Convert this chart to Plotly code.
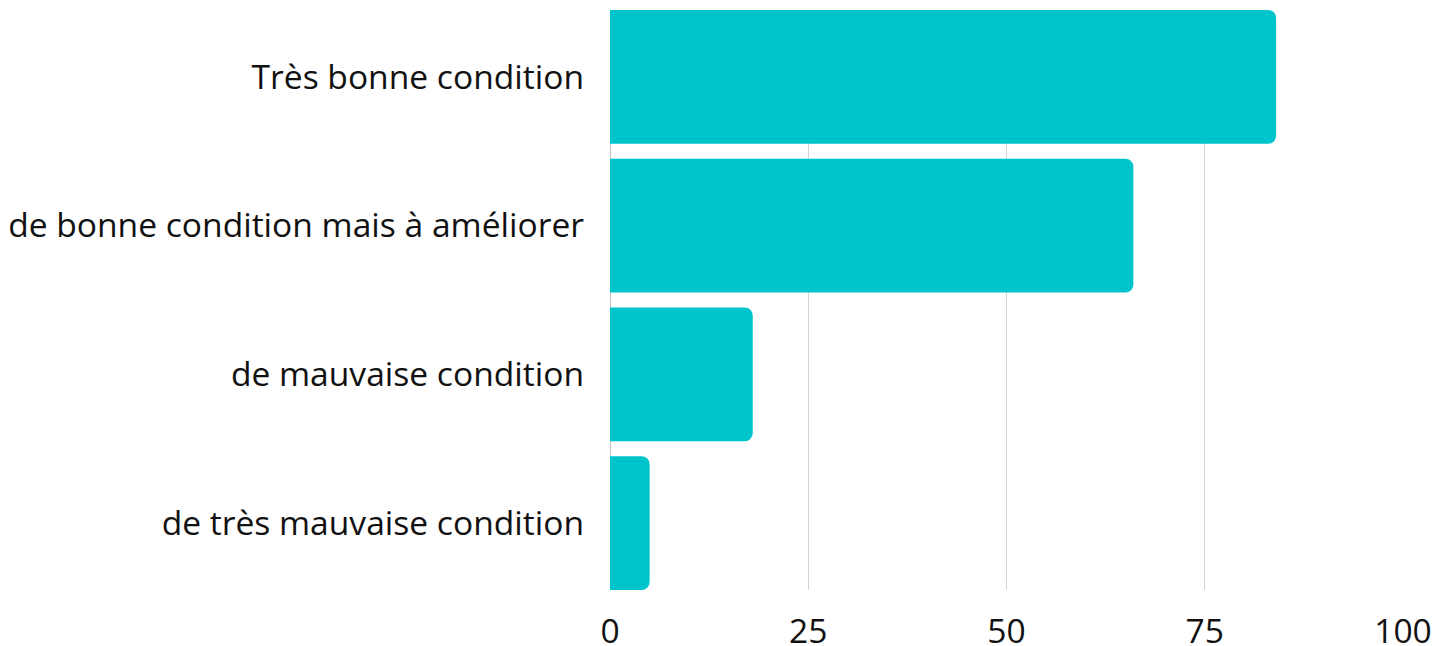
import plotly.graph_objects as go

categories = ["Très bonne condition", "de bonne condition mais à améliorer",
              "de mauvaise condition", "de très mauvaise condition"]
values = [84, 66, 18, 5]
x_ticks = [0, 25, 50, 75, 100]

fig = go.Figure(go.Bar(
    x=values, y=categories, orientation="h",
    marker=dict(color="#00C4CC", line=dict(width=0)),
    hoverinfo="x+y",
))

fig.update_layout(
    width=1442, height=638,
    margin=dict(l=602, r=47, t=2, b=56),
    plot_bgcolor="white", paper_bgcolor="white",
    bargap=0.1, barcornerradius=8,
    font=dict(family="Open Sans", size=33.6, color="#111111"),
    showlegend=False,
)
fig.update_xaxes(range=[0, 100], tickvals=x_ticks, showgrid=True, gridcolor="#d3d3d3",
                 gridwidth=1, zeroline=True, zerolinecolor="#c4c4c4", zerolinewidth=1,
                 showline=False, ticks="", ticklabelstandoff=18, fixedrange=True,
                 automargin=False)
fig.update_yaxes(categoryorder="array", categoryarray=categories[::-1],
                 range=[-0.45, 3.45], showgrid=False, zeroline=False, showline=False,
                 ticks="", ticklabelstandoff=25, fixedrange=True, automargin=False)

fig.write_html("out.html")
